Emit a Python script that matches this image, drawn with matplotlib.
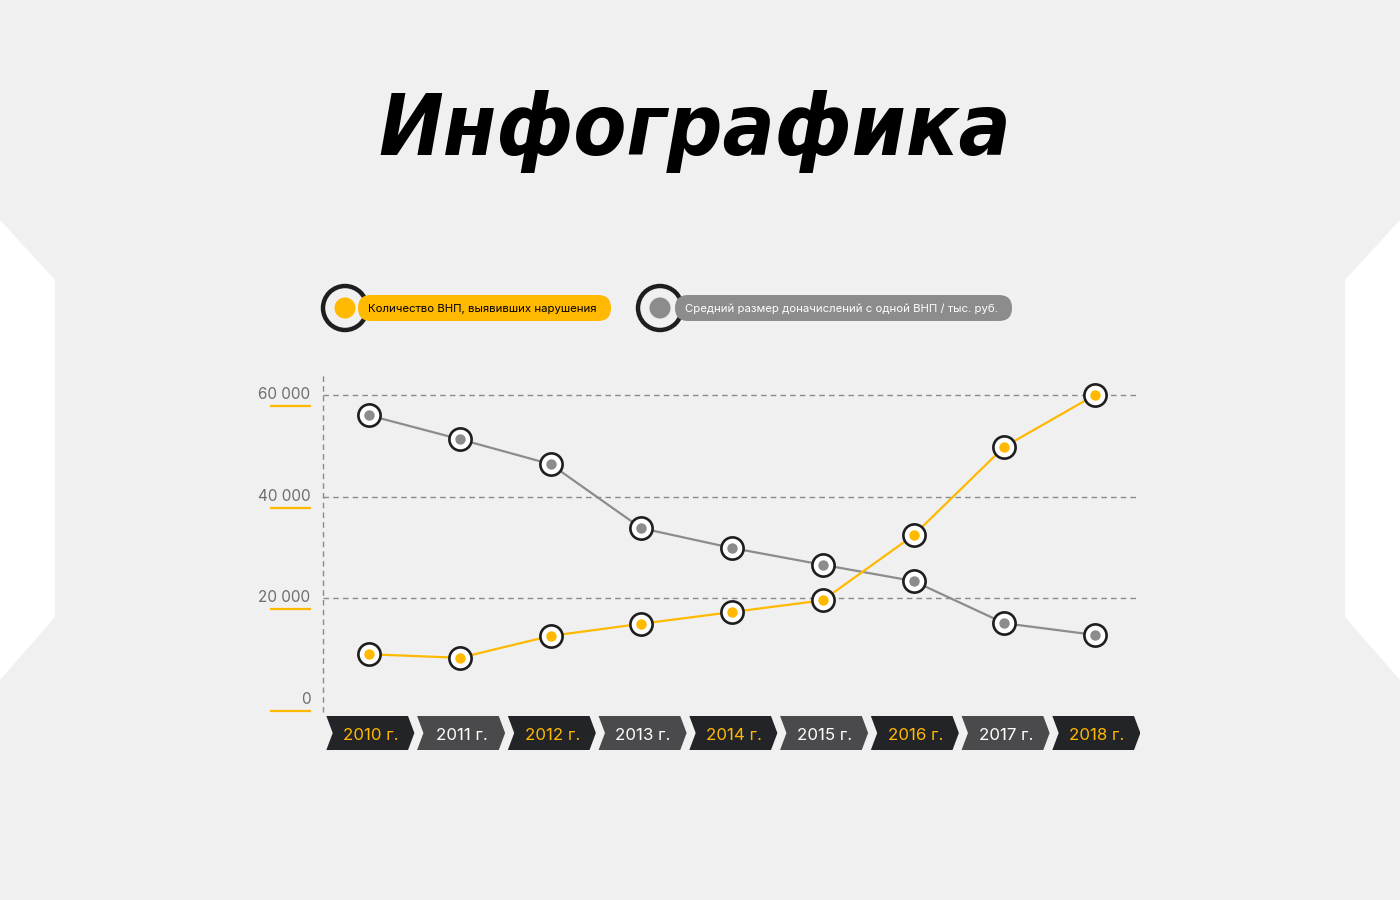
import matplotlib.pyplot as plt
import matplotlib.transforms as mtransforms
from matplotlib.patches import Polygon, FancyBboxPatch, Circle

years = ["2010 г.", "2011 г.", "2012 г.", "2013 г.", "2014 г.",
         "2015 г.", "2016 г.", "2017 г.", "2018 г."]
# Количество ВНП, выявивших нарушения
inspections = [9000, 8300, 12600, 15000, 17300, 19600, 32400, 49800, 60000]
# Средний размер доначислений с одной ВНП / тыс. руб.
avg_charge = [56000, 51300, 46400, 33800, 29900, 26600, 23400, 15100, 12800]
y_ticks = [0, 20000, 40000, 60000]
y_tick_labels = ["0", "20 000", "40 000", "60 000"]

title = "Инфографика"
legend_labels = ["Количество ВНП, выявивших нарушения",
                 "Средний размер доначислений с одной ВНП / тыс. руб."]

YELLOW = "#ffb900"
GREY = "#8c8c8c"
BG = "#f0f0f0"
DARK = "#232427"
MID = "#4a4a4c"

plt.rcParams['font.family'] = ['Inter', 'DejaVu Sans']

fig = plt.figure(figsize=(14, 9), dpi=100, facecolor=BG)

# background layer in pixel coordinates
bg = fig.add_axes([0, 0, 1, 1], zorder=0)
bg.set_xlim(0, 1400)
bg.set_ylim(900, 0)
bg.axis("off")
bg.add_patch(Polygon([(0, 220), (55, 280), (55, 617), (0, 680)],
                     closed=True, fc="white", ec="none"))
bg.add_patch(Polygon([(1400, 220), (1345, 280), (1345, 617), (1400, 680)],
                     closed=True, fc="white", ec="none"))

bg.text(695, 155, title, ha="center", va="baseline", fontsize=62,
        fontweight="bold", fontstyle="italic", fontstretch="condensed",
        family=['DejaVu Sans'], color="black")

# legend pills
legend_items = [(345, 358, 611, YELLOW, "black"), (660, 675, 1012, GREY, "white")]
for (cx, x0, x1, col, tcol), lab in zip(legend_items, legend_labels):
    bg.add_patch(Circle((cx, 308), 22, fc=BG, ec="#1e1e1e", lw=3.2, zorder=2))
    bg.add_patch(FancyBboxPatch((x0, 295), x1 - x0, 26,
                                boxstyle="round,pad=0,rounding_size=13",
                                fc=col, ec="none", zorder=3))
    bg.add_patch(Circle((cx, 308), 10.5, fc=col, ec="none", zorder=4))
    bg.text(x0 + 10, 309, lab, ha="left", va="center", fontsize=8.2,
            color=tcol, zorder=5)

# main chart
W, H = 1400, 900
ax = fig.add_axes([323 / W, 1 - 712 / H, 815 / W, 340 / H], zorder=2)
ax.set_facecolor("none")
px_per_val = 101.67 / 20000
ax.set_ylim(-12 / px_per_val, 328 / px_per_val)
ax.set_xlim(-46 / 90.75, 769 / 90.75)
for s in ax.spines.values():
    s.set_visible(False)
ax.axvline(ax.get_xlim()[0], color="#8a8a8a", lw=1, ls=(0, (4, 3)), clip_on=False)
for t in y_ticks[1:]:
    ax.axhline(t, color="#8a8a8a", lw=1, ls=(0, (4, 3)))

ax.set_xticks([])
ax.set_yticks(y_ticks)
ax.set_yticklabels(y_tick_labels, color="#6e6e6e", fontsize=11)
ax.tick_params(axis="y", length=0, pad=9)
for lbl in ax.get_yticklabels():
    lbl.set_transform(lbl.get_transform() +
                      mtransforms.ScaledTranslation(0, 0.02, fig.dpi_scale_trans))

ul_trans = mtransforms.blended_transform_factory(ax.transAxes, ax.transData) + \
    mtransforms.ScaledTranslation(0, -0.11, fig.dpi_scale_trans)
for t in y_ticks:
    ax.plot([-53 / 815, -12 / 815], [t, t], color=YELLOW, lw=1.6,
            transform=ul_trans, clip_on=False, solid_capstyle="butt")

xs = range(len(years))
for vals, col in [(avg_charge, GREY), (inspections, YELLOW)]:
    ax.plot(xs, vals, color=col, lw=1.6, zorder=3)
    ax.plot(xs, vals, ls="none", marker="o", ms=16, mfc="white",
            mec="#1e1e1e", mew=1.9, zorder=4, clip_on=False)
    ax.plot(xs, vals, ls="none", marker="o", ms=7.5, mfc=col,
            mec="none", zorder=5, clip_on=False)

# year strip
ax2 = fig.add_axes([323 / W, 1 - 750 / H, 817 / W, 34 / H], zorder=2)
ax2.set_xlim(-46 / 90.75, 771 / 90.75)
ax2.set_ylim(0, 1)
ax2.axis("off")
d = 0.07
gap = 0.03
for i, lab in enumerate(years):
    x0 = i - 0.5 + gap
    x1 = i + 0.5
    dark = i % 2 == 0
    ax2.add_patch(Polygon([(x0, 1), (x1 - d, 1), (x1, 0.5), (x1 - d, 0),
                           (x0, 0), (x0 + d, 0.5)], closed=True,
                          fc=DARK if dark else MID, ec="none"))
    ax2.text(i + 0.02, 0.42, lab, ha="center", va="center", fontsize=12.2,
             color=YELLOW if dark else "white")

fig.savefig("out.png", dpi=100, facecolor=BG)
